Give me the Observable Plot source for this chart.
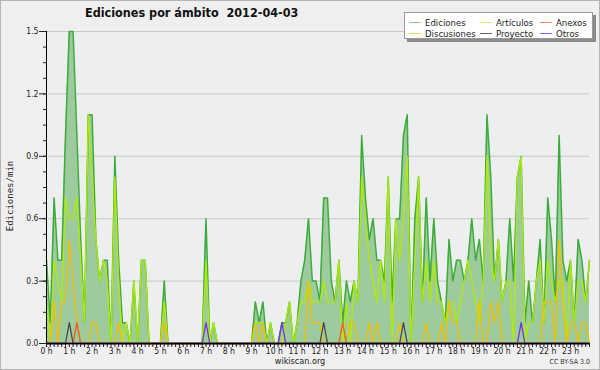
<!DOCTYPE html>
<html><head><meta charset="utf-8">
<script src="https://cdn.jsdelivr.net/npm/d3@7"></script>
<script src="https://cdn.jsdelivr.net/npm/@observablehq/plot@0.6"></script>
<style>
html,body{margin:0;padding:0;background:#efefef;}
#chart{position:relative;width:600px;height:370px;background:#efefef;overflow:hidden;font-family:"DejaVu Sans",sans-serif;}
#chart svg{position:absolute;left:0;top:0;}
#border{position:absolute;left:0;top:0;width:600px;height:370px;box-sizing:border-box;border:1px solid #b4b4b4;pointer-events:none}
#title{position:absolute;left:85px;top:5px;font:bold 12.5px "DejaVu Sans Condensed","DejaVu Sans",sans-serif;color:#111;white-space:pre}
#ylab{position:absolute;left:10px;top:196px;transform:translate(-50%,-50%) rotate(-90deg);font:9px "DejaVu Sans Mono",monospace;color:#222;white-space:nowrap}
#legend{position:absolute;left:404px;top:12px;width:189px;height:27px;box-sizing:border-box;background:#fff;border:1px solid #9a9a9a;box-shadow:3px 3px 0 #8a8a8a;}
.li{position:absolute;font:9.5px "DejaVu Sans Condensed","DejaVu Sans",sans-serif;color:#222;white-space:nowrap;line-height:10px}
.li span{display:inline-block;width:12px;height:1px;vertical-align:middle;margin-right:4px;position:relative;top:-1px}
#foot{position:absolute;left:0;width:600px;top:356px;text-align:center;font:9px "DejaVu Sans Condensed","DejaVu Sans",sans-serif;color:#222}
#cc{position:absolute;right:10px;top:358px;font:7px "DejaVu Sans Condensed","DejaVu Sans",sans-serif;color:#333}
</style></head>
<body>
<div id="chart">
  <div id="title">Ediciones por ámbito  2012-04-03</div>
  <div id="ylab">Ediciones/min</div>
  <div id="legend"></div>
  <div id="foot">wikiscan.org</div>
  <div id="cc">CC BY-SA 3.0</div>
  <div id="border"></div>
</div>
<script>
// 10-minute slots, edits per minute (144 slots)
const ediciones = [
  0.4,0.1,0.7,0.4,0.4,1.0,1.5,1.5,1.0,0.5,0.1,1.1,
  1.1,0.5,0.3,0.4,0.4,0.0,0.9,0.4,0.1,0.1,0.0,0.3,
  0.0,0.4,0.4,0.0,0.0,0.0,0.0,0.3,0.0,0.0,0.0,0.0,
  0.0,0.0,0.0,0.0,0.0,0.0,0.6,0.0,0.1,0.0,0.0,0.0,
  0.0,0.0,0.0,0.0,0.0,0.0,0.0,0.2,0.1,0.2,0.0,0.1,
  0.0,0.0,0.1,0.1,0.2,0.0,0.1,0.3,0.4,0.6,0.3,0.3,
  0.2,0.7,0.7,0.3,0.2,0.4,0.1,0.3,0.2,0.3,0.2,1.0,
  0.7,0.5,0.6,0.4,0.4,0.3,0.8,0.2,0.6,0.6,1.0,1.1,
  0.0,0.6,0.8,0.2,0.7,0.3,0.6,0.3,0.2,0.1,0.5,0.3,
  0.4,0.4,0.3,0.4,0.6,0.4,0.5,0.3,1.1,0.8,0.3,0.5,
  0.2,0.3,0.6,0.3,0.8,0.9,0.1,0.3,0.1,0.3,0.5,0.1,
  0.7,0.5,0.2,1.0,0.4,0.3,0.4,0.1,0.5,0.4,0.2,0.4
];
const articulos = [
  0.2,0.0,0.4,0.3,0.2,0.7,0.6,0.6,0.7,0.4,0.1,1.1,
  0.8,0.5,0.3,0.4,0.3,0.0,0.8,0.3,0.0,0.1,0.0,0.3,
  0.0,0.4,0.4,0.0,0.0,0.0,0.0,0.2,0.0,0.0,0.0,0.0,
  0.0,0.0,0.0,0.0,0.0,0.0,0.4,0.0,0.1,0.0,0.0,0.0,
  0.0,0.0,0.0,0.0,0.0,0.0,0.0,0.1,0.1,0.1,0.0,0.1,
  0.0,0.0,0.0,0.1,0.2,0.0,0.1,0.2,0.2,0.3,0.2,0.2,
  0.2,0.3,0.2,0.2,0.2,0.4,0.0,0.2,0.0,0.3,0.2,0.8,
  0.6,0.4,0.3,0.2,0.4,0.2,0.8,0.0,0.6,0.4,0.6,0.9,
  0.0,0.4,0.8,0.2,0.4,0.2,0.4,0.2,0.2,0.1,0.2,0.2,
  0.1,0.2,0.3,0.4,0.3,0.2,0.1,0.3,0.9,0.4,0.3,0.5,
  0.2,0.3,0.3,0.0,0.8,0.9,0.0,0.1,0.1,0.3,0.4,0.1,
  0.4,0.3,0.2,0.3,0.3,0.0,0.4,0.1,0.3,0.3,0.2,0.4
];
const discusiones = [
  0.0,0.0,0.2,0.0,0.2,0.2,0.5,0.3,0.1,0.0,0.0,0.0,
  0.1,0.1,0.0,0.0,0.0,0.0,0.0,0.1,0.0,0.0,0.0,0.0,
  0.0,0.0,0.0,0.0,0.0,0.0,0.0,0.1,0.0,0.0,0.0,0.0,
  0.0,0.0,0.0,0.0,0.0,0.0,0.0,0.0,0.0,0.0,0.0,0.0,
  0.0,0.0,0.0,0.0,0.0,0.0,0.0,0.1,0.0,0.1,0.0,0.0,
  0.0,0.0,0.0,0.0,0.0,0.0,0.0,0.0,0.0,0.3,0.1,0.1,
  0.1,0.0,0.0,0.0,0.0,0.0,0.0,0.0,0.1,0.1,0.0,0.0,
  0.0,0.1,0.0,0.1,0.0,0.0,0.0,0.0,0.0,0.1,0.0,0.0,
  0.0,0.0,0.0,0.0,0.1,0.0,0.0,0.0,0.1,0.0,0.2,0.1,
  0.1,0.0,0.0,0.0,0.0,0.0,0.2,0.0,0.0,0.2,0.1,0.2,
  0.0,0.0,0.0,0.0,0.0,0.0,0.0,0.0,0.0,0.0,0.0,0.2,
  0.2,0.2,0.0,0.5,0.2,0.0,0.1,0.1,0.0,0.1,0.1,0.0
];
const anexos = [
  0,0,0,0,0,0,0,0,0.1,0,0,0,
  0,0,0,0,0,0,0,0,0,0,0,0,
  0,0,0,0,0,0,0,0,0,0,0,0,
  0,0,0,0,0,0,0,0,0,0,0,0,
  0,0,0,0,0,0,0,0,0,0,0,0,
  0,0,0,0,0,0,0,0,0,0,0,0,
  0,0,0,0,0,0,0.1,0,0,0,0,0,
  0,0,0,0,0,0,0,0,0,0,0,0,
  0,0,0,0,0,0,0,0,0,0,0,0,
  0,0,0,0,0,0,0,0,0,0,0,0,
  0,0,0,0,0,0,0,0,0,0,0,0,
  0,0,0,0,0,0,0,0,0,0,0,0
];
const proyecto = [
  0,0,0,0,0,0,0.1,0,0,0,0,0,
  0,0,0,0,0,0,0,0,0,0,0,0,
  0,0,0,0,0,0,0,0,0,0,0,0,
  0,0,0,0,0,0,0,0,0,0,0,0,
  0,0,0,0,0,0,0,0,0,0,0,0,
  0,0,0,0,0,0,0,0,0,0,0,0,
  0,0.1,0,0,0,0,0,0,0,0,0,0,
  0,0,0,0,0,0,0,0,0,0,0.1,0,
  0,0,0,0,0,0,0,0,0,0,0,0,
  0,0,0,0,0,0,0,0,0,0,0,0,
  0,0,0,0,0,0,0,0,0,0,0,0,
  0,0,0,0,0,0,0,0,0,0,0,0
];
const otros = [
  0,0,0,0,0,0,0,0,0,0,0,0,
  0,0,0,0,0,0,0,0,0,0,0,0,
  0,0,0,0,0,0,0,0,0,0,0,0,
  0,0,0,0,0,0,0.1,0,0,0,0,0,
  0,0,0,0,0,0,0,0,0,0,0,0,
  0,0,0.1,0,0,0,0,0,0,0,0,0,
  0,0,0,0,0,0,0,0,0,0,0,0,
  0,0,0,0,0,0,0,0,0,0,0,0,
  0,0,0,0,0,0,0,0,0,0,0,0,
  0,0,0,0,0,0,0,0,0,0,0,0,
  0,0,0,0,0,0.1,0,0,0,0,0,0,
  0,0,0,0,0,0,0,0,0,0,0,0
];
const hourLabels = ["0 h","1 h","2 h","3 h","4 h","5 h","6 h","7 h","8 h","9 h","10 h","11 h",
  "12 h","13 h","14 h","15 h","16 h","17 h","18 h","19 h","20 h","21 h","22 h","23 h"];
const yTicks = [0, 0.3, 0.6, 0.9, 1.2, 1.5];
const seriesNames = ["Ediciones","Artículos","Anexos","Discusiones","Proyecto","Otros"];
const lineColors = {Ediciones:"#3dab3a",Artículos:"#b0ec00",Anexos:"#f05a1e",Discusiones:"#f2c000",Proyecto:"#4a4a4a",Otros:"#7a30e0"};
const legendColors = {Ediciones:"#8fd28f",Artículos:"#d2f070",Anexos:"#f3895a",Discusiones:"#f5d45a",Proyecto:"#666666",Otros:"#9a5cf0"};

const slots = d3.range(ediciones.length);
const hourSlots = slots.filter(i => i % 6 === 0);
const minorY = d3.range(0, 1.5001, 0.075);

const chart = Plot.plot({
  width: 600, height: 370,
  marginLeft: 46, marginRight: 11, marginTop: 31, marginBottom: 27,
  style: {background: "transparent", fontFamily: "DejaVu Sans Condensed, DejaVu Sans", fontSize: "8px", color: "#222", overflow: "visible"},
  x: {domain: [0, ediciones.length - 1], axis: null},
  y: {domain: [0, 1.5], axis: null},
  marks: [
    Plot.frame({fill: "#eceef0", stroke: null}),
    Plot.gridY(yTicks.slice(1), {stroke: "#c9c9c9", strokeOpacity: 1}),
    Plot.areaY(ediciones, {fill: "#9dcb9d"}),
    Plot.lineY(ediciones, {stroke: lineColors.Ediciones, strokeWidth: 1.5}),
    Plot.lineY(articulos, {stroke: lineColors["Artículos"], strokeWidth: 1.3}),
    Plot.lineY(discusiones, {stroke: lineColors.Discusiones, strokeWidth: 1.3}),
    Plot.lineY(anexos, {stroke: lineColors.Anexos, strokeWidth: 1.3}),
    Plot.lineY(proyecto, {stroke: lineColors.Proyecto, strokeWidth: 1.3}),
    Plot.lineY(otros, {stroke: lineColors.Otros, strokeWidth: 1.3}),
    Plot.axisY({ticks: minorY, tickSize: 3, tickFormat: () => ""}),
    Plot.axisY({ticks: yTicks, tickSize: 7, tickPadding: 1, fontSize: 8.5, tickFormat: d3.format(".1f")}),
    Plot.axisX({ticks: slots, tickSize: 4, tickFormat: () => ""}),
    Plot.axisX({ticks: hourSlots, tickSize: 0, tickPadding: 4, fontSize: 8.5, tickFormat: i => hourLabels[i / 6]}),
    Plot.ruleX([0], {stroke: "#000"}),
    Plot.ruleY([0], {stroke: "#000", strokeWidth: 1.3})
  ]
});
document.getElementById("chart").prepend(chart);

const legend = document.getElementById("legend");
const pos = [[4,5],[75,5],[135,5],[4,16],[75,16],[135,16]];
seriesNames.forEach((n, k) => {
  const d = document.createElement("div");
  d.className = "li";
  d.style.left = pos[k][0] + "px";
  d.style.top = pos[k][1] + "px";
  d.innerHTML = `<span style="background:${legendColors[n]}"></span>${n}`;
  legend.appendChild(d);
});
</script>
</body></html>
